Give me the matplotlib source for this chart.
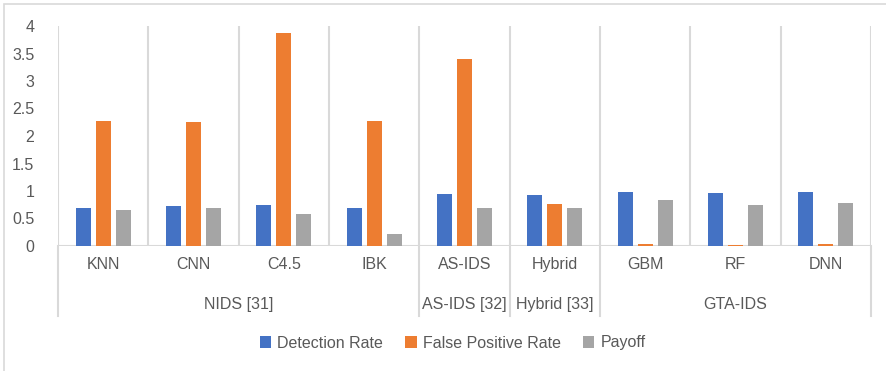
import matplotlib.pyplot as plt
import matplotlib.transforms as mtransforms
from matplotlib.patches import Rectangle
import numpy as np

plt.rcParams['font.family'] = ['Liberation Sans', 'DejaVu Sans']

methods = ['KNN', 'CNN', 'C4.5', 'IBK', 'AS-IDS', 'Hybrid', 'GBM', 'RF', 'DNN']
groups = ['NIDS [31]', 'AS-IDS [32]', 'Hybrid [33]', 'GTA-IDS']
group_sizes = [4, 1, 1, 3]

detection_rate = [0.70, 0.72, 0.74, 0.70, 0.94, 0.92, 0.98, 0.96, 0.98]
false_positive = [2.27, 2.25, 3.87, 2.27, 3.40, 0.76, 0.04, 0.02, 0.04]
payoff = [0.65, 0.69, 0.58, 0.21, 0.70, 0.69, 0.83, 0.74, 0.79]

series_names = ['Detection Rate', 'False Positive Rate', 'Payoff']
colors = ['#4472C4', '#ED7D31', '#A5A5A5']
grid_color = '#D9D9D9'
text_color = '#595959'

fig = plt.figure(figsize=(8.86, 3.71), dpi=100)
ax = fig.add_axes([58 / 886, 1 - 246 / 371, 813 / 886, 220 / 371])

x = np.arange(len(methods))
w = 0.167
for i, (vals, name, c) in enumerate(zip([detection_rate, false_positive, payoff], series_names, colors)):
    ax.bar(x + (i - 1) * 0.222, vals, width=w, color=c, label=name, linewidth=0, zorder=3)

ax.set_xlim(-0.5, len(methods) - 0.5)
ax.set_ylim(0, 4)
ax.set_yticks(np.arange(0, 4.01, 0.5))
ax.set_yticklabels(['0', '0.5', '1', '1.5', '2', '2.5', '3', '3.5', '4'])
ax.tick_params(axis='y', length=0, pad=17, labelsize=11.5, labelcolor=text_color)
ax.set_xticks([])
for s in ax.spines.values():
    s.set_visible(False)

# vertical dividers between categories
for b in np.arange(-0.5, len(methods), 1):
    ax.axvline(b, color=grid_color, lw=1.5, zorder=1)
ax.axhline(0, color=grid_color, lw=1.5, zorder=2)

# two-level category labels
trans = mtransforms.blended_transform_factory(ax.transData, ax.transAxes)
for xi, m in zip(x, methods):
    ax.text(xi, -0.086, m, transform=trans, ha='center', va='center',
            fontsize=11.5, color=text_color)

start = 0
bounds = [-0.5]
for g, n in zip(groups, group_sizes):
    center = start + (n - 1) / 2
    ax.text(center, -0.268, g, transform=trans, ha='center', va='center',
            fontsize=11.5, color=text_color)
    start += n
    bounds.append(start - 0.5)
for b in bounds:
    ax.plot([b, b], [0, -0.318], transform=trans, color=grid_color, lw=1.5, clip_on=False)

fig.legend(loc='center', bbox_to_anchor=(0.511, 1 - 343 / 371), ncol=3, frameon=False,
           fontsize=11.5, labelcolor=text_color, handlelength=0.7, handleheight=0.7,
           handletextpad=0.4, columnspacing=1.4)

# outer chart border
fig.patches.append(Rectangle((4 / 886, -0.1), 1.2, 1 - 4 / 371 + 0.1, transform=fig.transFigure,
                             fill=False, edgecolor=grid_color, lw=1.2))

fig.savefig('out.png', dpi=100)
